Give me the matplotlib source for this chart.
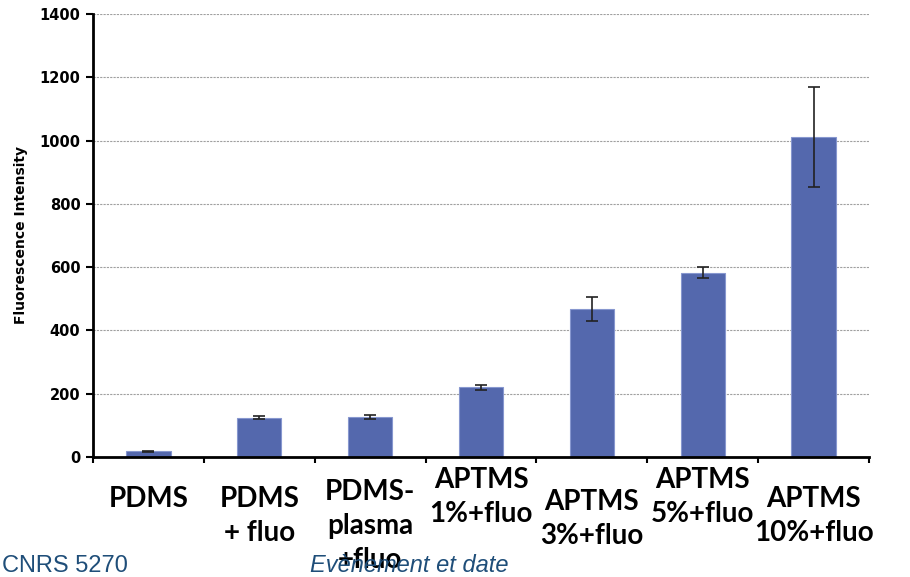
import matplotlib.pyplot as plt
import matplotlib.transforms as mtransforms
import numpy as np

labels = ["PDMS", "PDMS\n+ fluo", "PDMS-\nplasma\n+fluo", "APTMS\n1%+fluo",
          "APTMS\n3%+fluo", "APTMS\n5%+fluo", "APTMS\n10%+fluo"]
values = [18, 124, 127, 220, 468, 583, 1012]
errors = [2, 5, 7, 9, 39, 18, 158]
yticks = [0, 200, 400, 600, 800, 1000, 1200, 1400]
# top pixel of each x label (the original labels are not aligned)
label_top = [486, 486, 479, 467, 489, 467, 486]

W, H = 910, 577
fig = plt.figure(figsize=(W / 100, H / 100), dpi=100)
ax = fig.add_axes([93 / W, 1 - 457 / H, (869 - 93) / W, (457 - 14) / H])

x = np.arange(len(values))
ax.bar(x, values, width=0.4, color="#5468ad", edgecolor="#8797cf", linewidth=0.8, zorder=2)
ax.errorbar(x, values, yerr=errors, fmt="none", ecolor="#222222", elinewidth=1.2,
            capsize=4, capthick=1.2, zorder=3)

ax.set_xlim(-0.5, len(values) - 0.5)
ax.set_ylim(0, 1400)
ax.set_yticks(yticks)
ax.set_yticklabels([str(t) for t in yticks], fontsize=10.5, fontweight="bold")
ax.set_xticks(np.arange(len(values) + 1) - 0.5)
ax.set_xticklabels([])
ax.tick_params(axis="x", length=4, width=1.5, direction="out")
ax.tick_params(axis="y", length=5, width=1.5, direction="out", pad=4)
ax.yaxis.grid(True, linestyle=(0, (2, 1)), color="#a0a0a0", linewidth=0.8, zorder=0)
ax.set_axisbelow(True)
for s in ["top", "right"]:
    ax.spines[s].set_visible(False)
ax.spines["left"].set_linewidth(2)
ax.spines["bottom"].set_linewidth(2)

ax.set_ylabel("Fluorescence Intensity", fontsize=10, fontweight="bold", labelpad=8)

# footer
fig.text(2 / W, 1 - 566 / H, "CNRS 5270", fontsize=17, color="#1f4e79",
         family="Liberation Sans", va="center", ha="left")
fig.text(310 / W, 1 - 566 / H, "Evènement et date", fontsize=17, color="#1f4e79",
         family="Liberation Sans", style="italic", va="center", ha="left")

trans = mtransforms.blended_transform_factory(ax.transData, fig.transFigure)
for i, (lab, top) in enumerate(zip(labels, label_top)):
    ax.text(i, 1 - top / H, lab, transform=trans, ha="center", va="top",
            fontsize=20, fontweight="bold", family="Lato", linespacing=1.38,
            clip_on=False)

fig.savefig("out.png", dpi=100)
